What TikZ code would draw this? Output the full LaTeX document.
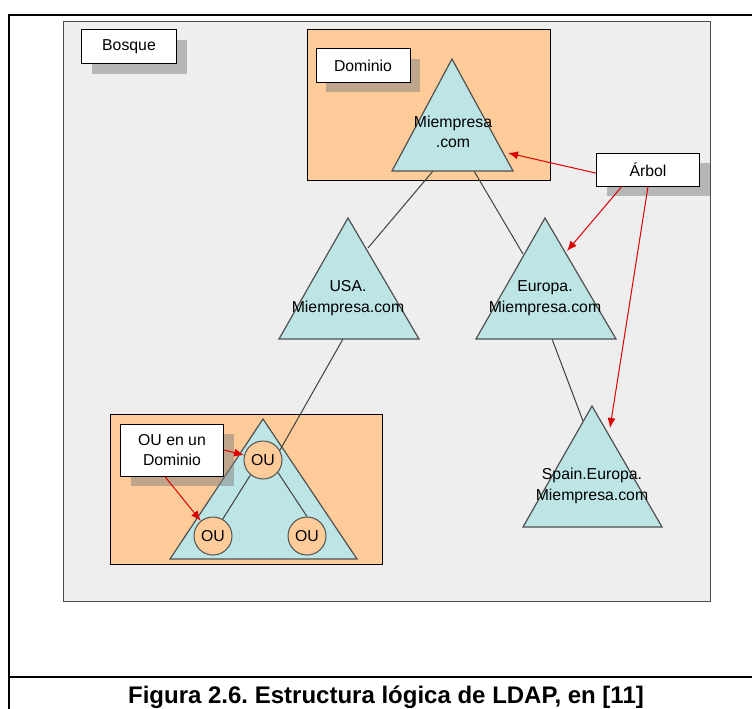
\documentclass[tikz,border=0pt]{standalone}
\usepackage{fontspec}
\setmainfont{Liberation Sans}
\usetikzlibrary{arrows.meta}
\usetikzlibrary{shadows}
\tikzset{>=latex}
\frenchspacing
\definecolor{bosquegray}{RGB}{238,238,238}
\definecolor{dominiopeach}{RGB}{255,204,153}
\definecolor{arbolcyan}{RGB}{189,229,229}
\definecolor{edgegray}{RGB}{80,80,80}
\definecolor{arrowred}{RGB}{221,0,0}
\tikzstyle{arbol}=[draw=edgegray,fill=arbolcyan,line width=1.2pt]
\tikzstyle{dominio}=[draw=black,fill=dominiopeach,line width=1pt]
\tikzstyle{texto}=[font=\fontsize{15.8}{20.5}\selectfont,align=center,inner sep=0pt]
\tikzstyle{etiqueta}=[texto,draw=black,fill=white,line width=1pt,drop shadow={shadow xshift=10pt,shadow yshift=-10pt}]
\tikzstyle{ou}=[texto,circle,draw=edgegray,fill=dominiopeach,line width=1pt,minimum size=38pt]
\tikzstyle{enlace}=[draw=black!75,line width=1pt]
\tikzstyle{flecha}=[draw=arrowred,line width=1pt,-{Latex[length=10pt,width=8pt]}]

\begin{document}
\begin{tikzpicture}[x=1pt,y=-1pt]
  \useasboundingbox (0,0) rectangle (752,709);

  % page frame
  \draw[line width=1.8pt] (752,15) -- (9,15) -- (9,709);
  \draw[line width=1.8pt] (9,677) -- (752,677);

  % bosque and dominios
  \draw[draw=black!70,fill=bosquegray,line width=1pt] (63,22) rectangle (710,601);
  \draw[dominio] (307,30) rectangle (550,180);
  \draw[dominio] (110,414) rectangle (382,564);

  \coordinate (raiz-t) at (452,59);
  \coordinate (raiz-l) at (392,171);
  \coordinate (raiz-r) at (513,171);
  \coordinate (usa-t) at (348,218);
  \coordinate (usa-l) at (279,339);
  \coordinate (usa-r) at (419,339);
  \coordinate (eur-t) at (545,218);
  \coordinate (eur-l) at (476,339);
  \coordinate (eur-r) at (616,339);
  \coordinate (spa-t) at (592,406);
  \coordinate (spa-l) at (523,527);
  \coordinate (spa-r) at (662,527);
  \coordinate (dom-t) at (263,419);
  \coordinate (dom-l) at (170,559);
  \coordinate (dom-r) at (357,559);

  % enlaces between trees
  \coordinate (raiz-usa) at (433,171);
  \coordinate (usa-raiz) at (368,248);
  \coordinate (raiz-eur) at (474,171);
  \coordinate (eur-raiz) at (523,254);
  \coordinate (usa-ou) at (343,339);
  \coordinate (eur-spa) at (552,339);
  \coordinate (spa-eur) at (583,421);
  \draw[enlace] (raiz-usa) -- (usa-raiz);
  \draw[enlace] (raiz-eur) -- (eur-raiz);
  \draw[enlace] (eur-spa) -- (spa-eur);

  \draw[arbol] (raiz-t) -- (raiz-l) -- (raiz-r) -- cycle;
  \draw[arbol] (usa-t) -- (usa-l) -- (usa-r) -- cycle;
  \draw[arbol] (eur-t) -- (eur-l) -- (eur-r) -- cycle;
  \draw[arbol] (spa-t) -- (spa-l) -- (spa-r) -- cycle;
  \draw[arbol] (dom-t) -- (dom-l) -- (dom-r) -- cycle;

  \node[texto] (raiz) at (453,132) {Miempresa\\.com};
  \node[texto] (usa) at (348,298) {USA.\\Miempresa.com};
  \node[texto] (europa) at (545,298) {Europa.\\Miempresa.com};
  \node[texto] (spain) at (592,486) {Spain.Europa.\\Miempresa.com};

  % unidades organizativas
  \node[ou] (ou1) at (263,460) {OU};
  \node[ou] (ou2) at (213,536) {OU};
  \node[ou] (ou3) at (307,536) {OU};
  \draw[enlace] (ou1.-130) -- (ou2.60);
  \draw[enlace] (ou1.-40) -- (ou3.90);
  \draw[enlace] (usa-ou) -- (ou1.30);

  % etiquetas
  \node[etiqueta,minimum width=95pt,minimum height=34pt] (bosque) at (129,47) {Bosque};
  \node[etiqueta,minimum width=94pt,minimum height=33pt] (dominio) at (363,65.5) {Dominio};
  \node[etiqueta,minimum width=103pt,minimum height=33pt] (arbolbox) at (648,169.5) {Árbol};
  \node[etiqueta,minimum width=103pt,minimum height=52pt] (oubox) at (172,450) {OU en un\\Dominio};

  \coordinate (raiz-tip) at (508,153);
  \coordinate (eur-tip) at (567,251);
  \coordinate (spa-tip) at (610,428);
  \draw[flecha] (arbolbox.184) -- (raiz-tip);
  \draw[flecha] (arbolbox.213) -- (eur-tip);
  \draw[flecha] (arbolbox.south) -- (spa-tip);
  \draw[flecha] (oubox.east) -- (ou1);
  \draw[flecha] (oubox.255) -- (ou2);

  \node[font=\bfseries\fontsize{24}{28}\selectfont,anchor=base] (pie) at (386,703)
    {Figura 2.6. Estructura lógica de LDAP, en [11]};
\end{tikzpicture}
\end{document}
